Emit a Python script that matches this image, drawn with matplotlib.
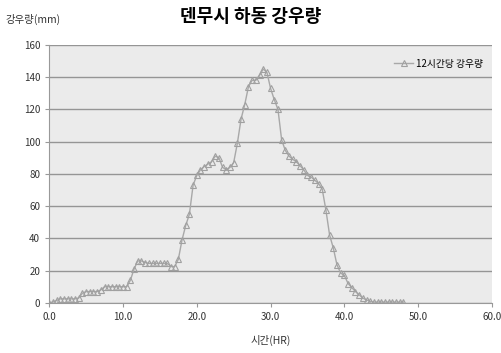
import matplotlib
matplotlib.use('Agg')
import matplotlib.pyplot as plt
import numpy as np

plt.rcParams['font.family'] = ['Noto Sans CJK KR', 'DejaVu Sans']

# 12-hour rainfall, sampled every 0.5 hr
hours = [i * 0.5 for i in range(97)]
rain = [0, 0.5, 1.5, 2.5, 2.5, 2.5, 2.5, 2.5, 3, 6,
        7, 7, 7, 7, 8, 10, 10, 10, 10, 10,
        10, 10, 14, 21, 26, 26, 25, 24.5, 24.5, 24.5,
        24.5, 24.5, 24.5, 22.5, 22.5, 27, 39, 48, 55, 73,
        79, 82.5, 84.5, 86, 87.5, 91, 90, 84, 82.5, 84,
        87, 99, 114, 123, 134, 138, 138, 141, 145, 143,
        133, 126, 120, 101, 94.5, 91, 89, 87.5, 85, 82.5,
        79, 78, 76, 74, 70.5, 57.5, 42, 34, 23.5, 18.5,
        17, 12, 9.5, 7, 5, 3, 1.8, 1, 0.5, 0.5,
        0.5, 0.5, 0.5, 0.5, 0.5, 0.5, 0.5]

xticks = [0, 10, 20, 30, 40, 50, 60]
yticks = [0, 20, 40, 60, 80, 100, 120, 140, 160]

fig = plt.figure(figsize=(5.02, 3.53), dpi=100)
ax = fig.add_axes([0.098, 0.142, 0.882, 0.731])
ax.set_facecolor('#ebebeb')

ax.plot(hours, rain, color='#a8a8a8', linewidth=1.0, marker='^', markersize=4.6,
        markerfacecolor='none', markeredgecolor='#a0a0a0', markeredgewidth=0.8,
        label='12시간당 강우량')

ax.set_xlim(0, 60)
ax.set_ylim(0, 160)
ax.set_xticks(xticks)
ax.set_xticklabels(['%.1f' % v for v in xticks])
ax.set_yticks(yticks)
ax.tick_params(labelsize=7, colors='#333333', length=3, width=0.8)
ax.tick_params(axis='both', color='#999999')
ax.yaxis.grid(True, color='#959595', linewidth=1.0)
ax.set_axisbelow(True)
for s in ['top', 'right']:
    ax.spines[s].set_visible(False)
for s in ['left', 'bottom']:
    ax.spines[s].set_color('#999999')
    ax.spines[s].set_linewidth(0.8)

ax.set_xlabel('시간(HR)', fontsize=7.5, labelpad=9, color='#333333')
fig.text(0.01, 0.945, '강우량(mm)', fontsize=7.5, color='#333333', va='center')
fig.text(0.5, 0.952, '덴무시 하동 강우량', fontsize=13, fontweight='bold',
         ha='center', va='center')

ax.legend(loc='upper right', bbox_to_anchor=(1.0, 0.98), frameon=False,
          fontsize=7, handlelength=2.0, handletextpad=0.3)

fig.savefig('out.png', dpi=100)
